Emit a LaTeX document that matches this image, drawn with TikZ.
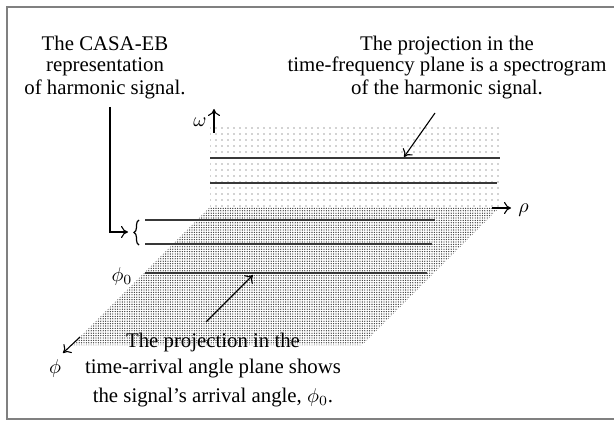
\documentclass[tikz,border=0pt]{standalone}
\usepackage{fontspec}
\setmainfont{Liberation Serif}
\usetikzlibrary{patterns.meta,arrows.meta,decorations.pathreplacing}
\begin{document}
\begin{tikzpicture}[x=0.5pt,y=-0.5pt,
  lbl/.style={font=\fontsize{10.4}{12}\selectfont, inner sep=0pt, anchor=base},
  sig/.style={draw=black!78, line width=1pt},
  ptr/.style={draw=black, line width=0.55pt, -{To[length=3.5pt,width=6pt]}},
  frame/.style={draw=black!50, line width=0.8pt}]
\useasboundingbox (0,0) rectangle (614,422);
\draw[frame] (620,7) -- (7,7) -- (7,419) -- (620,419);
% planes
\fill[pattern={Dots[distance=3pt,radius=0.3pt]}, pattern color=black!75] (210,125) rectangle (500,207);
\fill[pattern={Dots[distance=1.2pt,radius=0.33pt]}, pattern color=black!80] (210,207) -- (500,207) -- (362,345) -- (72,345) -- cycle;
% signal lines
\draw[sig] (210,158) -- (500,158);
\draw[sig] (210,183) -- (497,183);
\draw[sig, line width=1.2pt] (145,220) -- (435,220);
\draw[sig] (145,244) -- (432,244);
\draw[sig] (145,273) -- (427,273);
% axes
\coordinate (omA) at (214,133); \coordinate (omB) at (214,109);
\draw[ptr] (omA) -- (omB);
\node[lbl] (om) at (200,127) {$\omega$};
\coordinate (rhoA) at (492,208); \coordinate (rhoB) at (511,208);
\draw[ptr] (rhoA) -- (rhoB);
\node[lbl, anchor=base west] (rho) at (518,212) {$\rho$};
\coordinate (phA) at (80,337); \coordinate (phB) at (63,353);
\draw[ptr] (phA) -- (phB);
\node[lbl] (phi) at (55,373) {$\phi$};
\node[lbl] (p0) at (122,281) {$\phi_0$};
% brace and pointers
\draw[decorate, decoration={brace, amplitude=2.5pt}, line width=0.6pt] (139,245) -- (139,220);
\coordinate (cA) at (110,107); \coordinate (cB) at (128,232);
\draw[ptr] (cA) |- (cB);
\coordinate (tfA) at (435,113); \coordinate (tfB) at (404,157);
\draw[ptr] (tfA) -- (tfB);
\coordinate (taA) at (206,322); \coordinate (taB) at (253,275);
\draw[ptr] (taA) -- (taB);
% texts
\node[lbl] (l1) at (105,51) {The CASA-EB};
\node[lbl] (l2) at (105,72) {representation};
\node[lbl] (l3) at (105,95) {of harmonic signal.};
\node[lbl] (r1) at (447,51) {The projection in the};
\node[lbl] (r2) at (447,72) {time-frequency plane is a spectrogram};
\node[lbl] (r3) at (447,95) {of the harmonic signal.};
\node[lbl] (b1) at (213,347) {The projection in the};
\node[lbl] (b2) at (213,373) {time-arrival angle plane shows};
\node[lbl] (b3) at (213,402) {the signal’s arrival angle, $\phi_0$.};
\end{tikzpicture}
\end{document}
